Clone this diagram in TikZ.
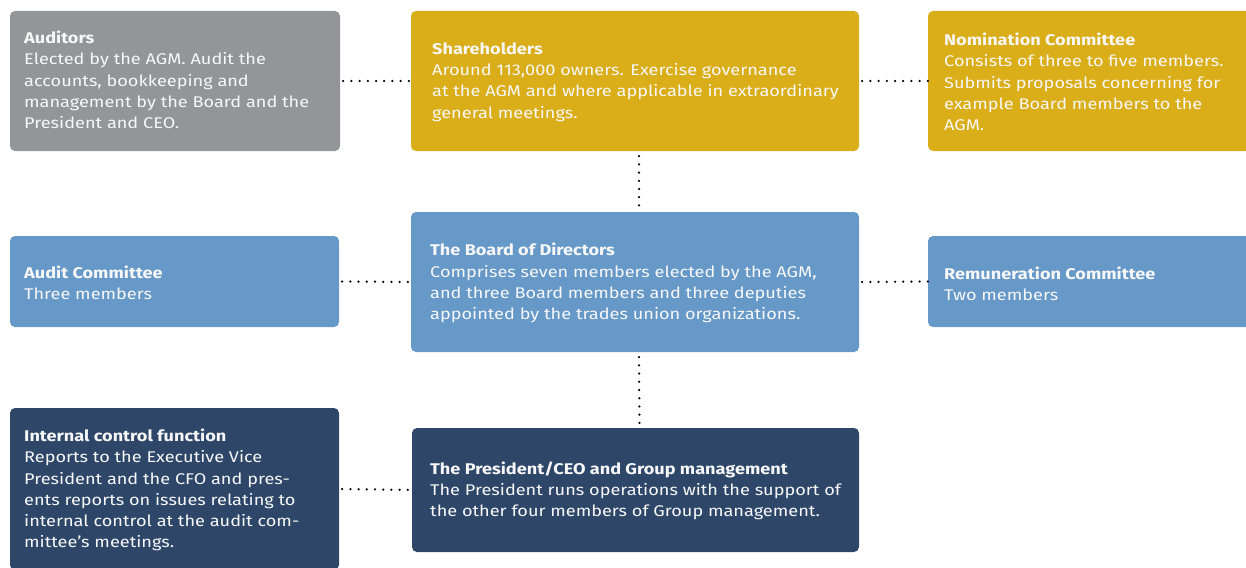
\documentclass[tikz,border=0pt]{standalone}
\usepackage{fontspec}
\setmainfont[FakeStretch=1.17]{Fira Sans}
\definecolor{cgray}{HTML}{939598}
\definecolor{cgold}{HTML}{DAAE19}
\definecolor{cblue}{HTML}{6699C8}
\definecolor{cnavy}{HTML}{2E4769}
\definecolor{ctext}{HTML}{F7F7F7}
\begin{document}
\begin{tikzpicture}[x=1pt,y=-1pt,
  box/.style={rounded corners=5pt, inner sep=0pt, draw=none},
  txt/.style={anchor=west, inner sep=0pt, align=left, text=ctext,
    font=\fontsize{15.5}{21.2}\selectfont},
  dotline/.style={line width=2.5pt, line cap=round, dash pattern=on 0pt off 8.2pt}]
\useasboundingbox (0,0) rectangle (1246,567);
% boxes
\node[box, fill=cgray, minimum width=330pt, minimum height=140pt] (aud) at (175,81) {};
\node[box, fill=cgold, minimum width=448pt, minimum height=140pt] (sh) at (635,81) {};
\node[box, fill=cgold, minimum width=340pt, minimum height=140pt] (nom) at (1098,81) {};
\node[box, fill=cblue, minimum width=329pt, minimum height=91pt] (ac) at (174.5,281.5) {};
\node[box, fill=cblue, minimum width=448pt, minimum height=140pt] (bd) at (635,282) {};
\node[box, fill=cblue, minimum width=340pt, minimum height=91pt] (rc) at (1098,281.5) {};
\node[box, fill=cnavy, minimum width=329pt, minimum height=162pt] (ic) at (174.5,489) {};
\node[box, fill=cnavy, minimum width=447pt, minimum height=124pt] (pr) at (635.5,490) {};
% texts
\node[txt] (audt) at (24,80) {\textbf{Auditors}\\Elected by the AGM. Audit the\\accounts, bookkeeping and\\management by the Board and the\\President and CEO.};
\node[txt] (sht) at (432,82) {\textbf{Shareholders}\\Around 113,000 owners. Exercise governance\\at the AGM and where applicable in extraordinary\\general meetings.};
\node[txt] (nomt) at (944,82) {\textbf{Nomination Committee}\\Consists of three to five members.\\Submits proposals concerning for\\example Board members to the\\AGM.};
\node[txt] (act) at (24,283) {\textbf{Audit Committee}\\Three members};
\node[txt] (bdt) at (430,283) {\textbf{The Board of Directors}\\Comprises seven members elected by the AGM,\\and three Board members and three deputies\\appointed by the trades union organizations.};
\node[txt] (rct) at (944,284) {\textbf{Remuneration Committee}\\Two members};
\node[txt] (ict) at (24,490) {\textbf{Internal control function}\\Reports to the Executive Vice\\President and the CFO and pres-\\ents reports on issues relating to\\internal control at the audit com-\\mittee's meetings.};
\node[txt] (prt) at (430,491) {\textbf{The President/CEO and Group management}\\The President runs operations with the support of\\the other four members of Group management.};
% connectors
\draw[dotline] ([xshift=3pt]aud.east) -- (sh.west);
\draw[dotline] ([xshift=3pt]sh.east) -- (nom.west);
\draw[dotline] ([xshift=4pt,yshift=-5pt]sh.south) -- ([xshift=4pt]bd.north);
\draw[dotline] ([xshift=3pt]ac.east) -- (bd.west);
\draw[dotline] ([xshift=3pt]bd.east) -- (rc.west);
\draw[dotline] ([xshift=4pt,yshift=-5pt]bd.south) -- ([xshift=4pt]pr.north);
\draw[dotline] ([xshift=3pt]ic.east) -- (pr.west);
\end{tikzpicture}
\end{document}
